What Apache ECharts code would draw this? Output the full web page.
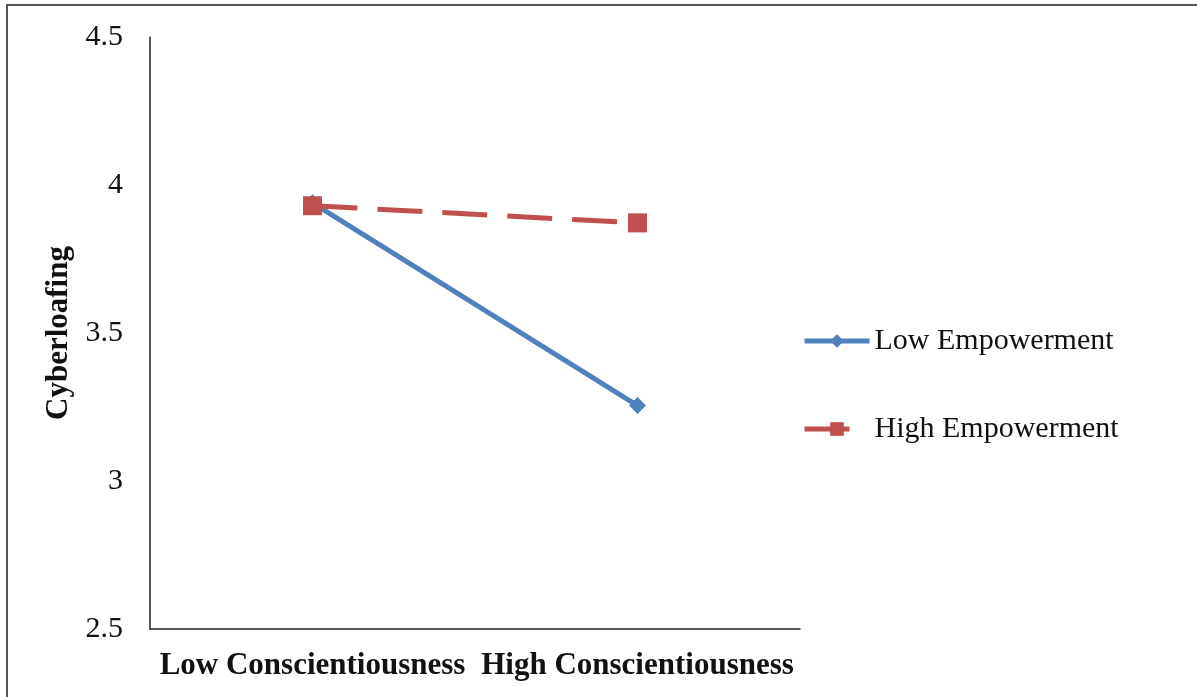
<!DOCTYPE html>
<html>
<head>
<meta charset="utf-8">
<script src="https://cdn.jsdelivr.net/npm/echarts@6/dist/echarts.min.js"></script>
<style>
html,body{margin:0;padding:0;background:#fff;}
#c{width:1197px;height:697px;}
</style>
</head>
<body>
<div id="c"></div>
<script>
var categories = ['Low Conscientiousness', 'High Conscientiousness'];
var lowEmpowerment = [3.94, 3.255];
var highEmpowerment = [3.93, 3.872];
var yTicks = [2.5, 3, 3.5, 4, 4.5];

var chart = echarts.init(document.getElementById('c'));
var serif = '"Liberation Serif", "DejaVu Serif", serif';
chart.setOption({
  animation: false,
  backgroundColor: '#fff',
  graphic: [{
    type: 'rect',
    shape: { x: 7, y: 5, width: 1200, height: 710 },
    style: { fill: 'none', stroke: '#555', lineWidth: 2 },
    silent: true
  }],
  grid: { left: 150, top: 37, right: 397, bottom: 68 },
  legend: {
    orient: 'vertical',
    left: 797,
    top: 321,
    itemWidth: 65,
    itemHeight: 17,
    itemGap: 58,
    lineStyle: { width: 5 },
    textStyle: { fontFamily: serif, fontSize: 30, color: '#111' },
    data: ['Low Empowerment', 'High Empowerment']
  },
  xAxis: {
    type: 'category',
    data: categories,
    boundaryGap: true,
    axisLine: { lineStyle: { color: '#222', width: 1.5 } },
    axisTick: { show: false },
    axisLabel: { fontFamily: serif, fontSize: 31, fontWeight: 'bold', color: '#111', margin: 21, interval: 0 }
  },
  yAxis: {
    type: 'value',
    min: yTicks[0],
    max: yTicks[yTicks.length - 1],
    interval: 0.5,
    name: 'Cyberloafing',
    nameLocation: 'middle',
    nameGap: 75,
    nameRotate: 90,
    nameTextStyle: { fontFamily: serif, fontSize: 31, fontWeight: 'bold', color: '#111' },
    axisLine: { show: true, lineStyle: { color: '#222', width: 1.5 } },
    axisTick: { show: false },
    splitLine: { show: false },
    axisLabel: { fontFamily: serif, fontSize: 30, color: '#111', margin: 27 }
  },
  series: [
    {
      name: 'Low Empowerment',
      type: 'line',
      data: lowEmpowerment,
      symbol: 'diamond',
      symbolSize: 17,
      itemStyle: { color: '#4F81BD' },
      lineStyle: { color: '#4F81BD', width: 5 },
      z: 2
    },
    {
      name: 'High Empowerment',
      type: 'line',
      data: highEmpowerment,
      symbol: 'rect',
      symbolSize: 19,
      itemStyle: { color: '#C0504D' },
      lineStyle: { color: '#C0504D', width: 5, type: [45, 20] },
      z: 3
    }
  ]
});
</script>
</body>
</html>
